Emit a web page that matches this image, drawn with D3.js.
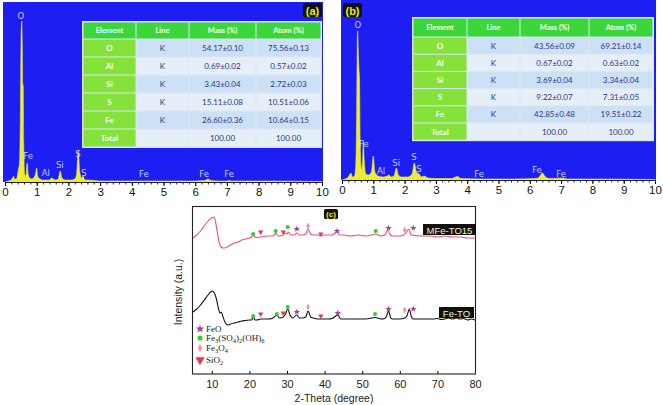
<!DOCTYPE html>
<html><head><meta charset="utf-8">
<script src="https://cdn.jsdelivr.net/npm/d3@7"></script>
<style>body{margin:0;background:#fff;} svg{display:block;}</style>
</head><body><svg id="c" width="663" height="405"></svg>
<script>
// ---------------- DATA ----------------
const keVTicks = d3.range(0, 11);
const keVMinor = d3.range(0, 10.01, 0.2);

// EDS spectrum (a): [keV, counts]
const spectrumA = [[0,0],[0.1,1],[0.18,2],[0.24,4],[0.27,6],[0.3,3],[0.36,3],[0.42,12],[0.46,20],[0.49,80],[0.51,150],[0.53,161],[0.545,140],[0.56,98],[0.575,96],[0.59,40],[0.62,8],[0.66,6],[0.7,19],[0.73,8],[0.78,4],[0.85,3],[0.92,5],[0.97,9],[1.0,14],[1.03,6],[1.1,3],[1.2,2],[1.3,2],[1.4,2],[1.47,4],[1.52,3],[1.6,2],[1.68,3],[1.74,11],[1.8,4],[1.9,2],[2.0,2],[2.1,2],[2.2,3],[2.26,8],[2.31,31],[2.36,10],[2.42,4],[2.46,6],[2.52,2],[2.6,2],[2.8,1.5],[3.0,1],[3.5,1],[4,1],[5,1],[6,1],[6.3,1.5],[6.4,3],[6.5,1.5],[6.7,1],[7.0,1],[7.06,1.5],[7.15,1],[8,1],[9,0.8],[10,0.5]];
// EDS spectrum (b): [keV, counts]
const spectrumB = [[0,0],[0.1,1],[0.2,3],[0.26,6],[0.29,7],[0.33,3],[0.4,4],[0.44,15],[0.47,70],[0.49,140],[0.5,149],[0.52,130],[0.54,112],[0.56,100],[0.58,40],[0.62,10],[0.66,20],[0.68,39],[0.71,20],[0.76,6],[0.85,5],[0.94,8],[1.0,24],[1.05,8],[1.15,4],[1.3,3],[1.45,4],[1.5,5],[1.56,3],[1.66,4],[1.74,12],[1.8,5],[1.9,3],[2.1,3],[2.24,6],[2.31,17],[2.38,8],[2.46,6],[2.55,3],[2.62,4],[2.75,2],[3.0,1.5],[3.5,1.5],[3.69,3.5],[3.8,1.5],[4.5,1],[5.5,1],[6.2,1.5],[6.3,3],[6.4,7],[6.5,3],[6.65,1.5],[7.06,2],[7.2,1],[8,1],[10,0.5]];

// Peak labels: [text, keV, counts]
const peakLabelsA = [["O",0.50,166],["Fe",0.73,26],["Al",1.29,9],["Si",1.73,17],["S",2.30,28],["S",2.49,9],["Fe",4.38,8],["Fe",6.28,8],["Fe",7.07,8]];
const peakLabelsB = [["O",0.51,155],["Fe",0.70,36],["Al",1.25,9],["Si",1.73,17],["S",2.30,23],["S",2.46,11],["Fe",4.38,6],["Fe",6.23,10],["Fe",7.0,6]];

// Tables
const tableHeaders = ["Element","Line","Mass (%)","Atom (%)"];
const elements = ["O","Al","Si","S","Fe","Total"];
const lines = ["K","K","K","K","K",""];
const massA = ["54.17±0.10","0.69±0.02","3.43±0.04","15.11±0.08","26.60±0.36","100.00"];
const atomA = ["75.56±0.13","0.57±0.02","2.72±0.03","10.51±0.06","10.64±0.15","100.00"];
const massB = ["43.56±0.09","0.67±0.02","3.69±0.04","9.22±0.07","42.85±0.48","100.00"];
const atomB = ["69.21±0.14","0.63±0.02","3.34±0.04","7.31±0.05","19.51±0.22","100.00"];

// XRD
const thetaTicks = [10,20,30,40,50,60,70,80];
const xrdMFe = [[5,136],[6,139],[7,143],[8,148],[9,153],[10,156.5],[10.5,157],[11,152],[11.5,141],[12,131],[12.5,127],[13,126],[13.5,126],[14,127],[15,129],[16,131],[17,132],[18,134],[19,135],[20,136],[20.6,137],[21,139],[21.5,137],[22,136.5],[23,137],[24,137.5],[25,138],[26,138],[26.6,139],[27,141],[27.6,138],[28,138],[29,139],[29.5,141],[30,140],[30.3,142],[31,139],[32,139],[32.6,141],[33.3,139],[34,139],[35,140],[35.6,145],[36.3,140],[37,139],[38,139],[39,138.5],[40,139],[41,139],[42,139],[43.3,142],[44,139],[45,139],[47,138],[49,139],[51,138],[53.5,140],[55,138],[56,139],[56.8,144],[57.5,139],[58,138],[60,138],[61,139],[61.6,141],[62.4,145],[63,139],[64,138.5],[66,138],[68,138],[70,137],[72,138],[74,137],[76,137],[78,136],[80,136]];
const xrdFe = [[5,62],[6,65],[7,69],[8,74],[9,79],[9.7,82],[10.2,83],[10.8,80],[11.3,74],[11.8,65],[12.2,61],[12.5,62],[12.9,58],[13.5,52],[14.3,49],[15,50],[16,51],[17,52],[18,53],[19,53.5],[20,54],[20.6,54],[21,57],[21.5,54],[22,54],[23,55],[24,55],[25,55],[26,55.5],[27.3,59],[28,56],[29,57],[29.6,60],[30.2,65],[30.8,59],[31.5,56],[32.6,59],[33.3,56],[34,56],[35,57],[35.6,63],[36.3,57],[37,56],[38,55],[39,55],[40,55],[41,55],[42,55.5],[43.5,59],[44.3,55],[45,55],[47,55],[49,55],[51,55],[53.5,56.5],[55,55],[56,55.5],[56.5,58],[57,63],[57.6,56],[58,55],[60,55],[61.3,56],[62,59],[62.5,65],[63.1,57],[63.5,55],[65,55],[67,55],[69,55],[70,55.5],[71,54.5],[72,55],[73,56],[74,55],[75,56],[76,55],[77,55.5],[78,54],[79,55],[80,54]];

// Phase markers: [2theta, intensity, phase index]
const phaseNames = ["FeO","Fe3(SO4)2(OH)6","Fe3O4","SiO2"];
const markersMFe = [[21,140,1],[23,142,3],[27,143,1],[29,142,3],[30.2,147,1],[32.6,145,0],[35.6,148,2],[39,140,3],[43.3,143,0],[53.6,143,1],[57,146,0],[61.3,144,2],[63.6,146,0]];
const markersFe = [[21,58,1],[23,60,3],[27.3,60,1],[29,61,3],[30.2,67,1],[32.6,62,0],[35.6,67,2],[39,58,3],[43.5,61,0],[53.4,60,1],[57,65,0],[61.3,64,2],[63.6,65,0]];

// ---------------- DRAW ----------------
const svg = d3.select("#c");
const BLUE = "#1c1ef2", YEL = "#ecec30", LBL = "#c9ccff";

function edsPanel(bx0, bx1, by0, base, x0, x1, spec, labels, tag, tagX, tagY) {
  const x = d3.scaleLinear([0,10],[x0,x1]);
  const y = d3.scaleLinear([0,180],[base, base-180]);
  const g = svg.append("g");
  g.append("rect").attr("x",bx0).attr("y",by0).attr("width",bx1-bx0).attr("height",base-by0).attr("fill",BLUE);
  const area = d3.area().x(d=>x(d[0])).y0(base).y1(d=>y(d[1])).curve(d3.curveMonotoneX);
  g.append("path").datum(spec).attr("d",area).attr("fill",YEL).attr("stroke",YEL).attr("stroke-width",0.6);
  g.selectAll("text.pl").data(labels).join("text").attr("class","pl")
    .attr("x",d=>x(d[1])).attr("y",d=>y(d[2])).attr("text-anchor","middle").attr("dominant-baseline","central")
    .attr("font-family","DejaVu Sans, sans-serif").attr("font-size",8.5).attr("fill",LBL).text(d=>d[0]);
  g.append("g").attr("transform",`translate(0,${base})`)
    .call(d3.axisBottom(x).tickValues(keVMinor).tickSize(2.5).tickFormat(""))
    .call(a=>a.select(".domain").remove())
    .call(a=>a.selectAll("line").attr("stroke","#222"));
  const ax = g.append("g").attr("transform",`translate(0,${base})`)
    .call(d3.axisBottom(x).tickValues(keVTicks).tickSize(4).tickPadding(2).tickSizeOuter(0).tickFormat(d3.format("d")));
  ax.select(".domain").attr("stroke","#222").attr("stroke-width",1.2);
  ax.selectAll("text").attr("font-family","Liberation Sans, Arial, sans-serif").attr("font-size",11.5).attr("fill","#111");
  g.append("rect").attr("x",tagX).attr("y",tagY).attr("width",19).attr("height",14).attr("rx",2).attr("fill","#111");
  g.append("text").attr("x",tagX+9.5).attr("y",tagY+7.5).attr("text-anchor","middle").attr("dominant-baseline","central")
    .attr("font-family","Liberation Sans, Arial, sans-serif").attr("font-weight","bold").attr("font-size",11).attr("fill","#f2f200").text(tag);
}

function table(tx, ty, colW, headH, rowH, mass, atom) {
  const g = svg.append("g");
  const cx = [tx]; colW.forEach(w=>cx.push(cx[cx.length-1]+w));
  const totalW = cx[4]-tx, totalH = headH + rowH*6;
  g.append("rect").attr("x",tx-1).attr("y",ty-1).attr("width",totalW+2).attr("height",totalH+2).attr("fill","#dde6f6");
  const font = "Lato, Open Sans, sans-serif";
  tableHeaders.forEach((h,i)=>{
    g.append("rect").attr("x",cx[i]+0.5).attr("y",ty+0.5).attr("width",colW[i]-1).attr("height",headH-1).attr("fill","#3ad63a");
    g.append("text").attr("x",(cx[i]+cx[i+1])/2).attr("y",ty+headH/2).attr("text-anchor","middle").attr("dominant-baseline","central")
      .attr("font-family",font).attr("font-weight","bold").attr("font-size",7.5).attr("fill","#fff").text(h);
  });
  elements.forEach((e,r)=>{
    const yy = ty+headH+r*rowH;
    const vals = [e, lines[r], mass[r], atom[r]];
    vals.forEach((v,i)=>{
      const fill = i===0 ? "#84e23a" : (r%2===0 ? "#cde1f6" : "#e6eef8");
      g.append("rect").attr("x",cx[i]+0.5).attr("y",yy+0.5).attr("width",colW[i]-1).attr("height",rowH-1).attr("fill",fill);
      g.append("text").attr("x",(cx[i]+cx[i+1])/2).attr("y",yy+rowH/2).attr("text-anchor","middle").attr("dominant-baseline","central")
        .attr("font-family",font).attr("font-weight", i===0?"bold":"normal").attr("font-size",8)
        .attr("fill", i===0 ? "#fff" : "#27378e").text(v);
    });
  });
}

edsPanel(3, 323, 2, 182, 5, 322, spectrumA, peakLabelsA, "(a)", 303, 3);
edsPanel(341, 656, 0, 180, 342, 655, spectrumB, peakLabelsB, "(b)", 343, 3);
table(83, 22, [53,53,67,65], 17, 18, massA, atomA);
table(413, 18, [54,53,69,64], 19, 17.2, massB, atomB);

// ---------------- XRD ----------------
const xC = d3.scaleLinear([5,80],[193,475]);
const yC = d3.scaleLinear([0,168],[374,206]);
const gC = svg.append("g");
const xa = gC.append("g").attr("transform","translate(0,374)")
  .call(d3.axisBottom(xC).tickValues(thetaTicks).tickSize(-3).tickPadding(6).tickSizeOuter(0));
xa.select(".domain").remove();
xa.selectAll("text").attr("font-family","Liberation Sans, Arial, sans-serif").attr("font-size",11).attr("fill","#222");
gC.append("rect").attr("x",192.5).attr("y",206.5).attr("width",283).attr("height",167.5)
  .attr("fill","none").attr("stroke","#222").attr("stroke-width",1.1);
const line = d3.line().x(d=>xC(d[0])).y(d=>yC(d[1])).curve(d3.curveMonotoneX);
gC.append("path").datum(xrdMFe).attr("d",line).attr("fill","none").attr("stroke","#f0506e").attr("stroke-width",1.1);
gC.append("path").datum(xrdFe).attr("d",line).attr("fill","none").attr("stroke","#111").attr("stroke-width",1.1);

const phaseSym = [d3.symbolStar, d3.symbolCircle, d3.symbolDiamond, d3.symbolTriangle];
const phaseCol = ["#a03c9c","#34cc34","#f78fa7","#e8315b"];
const phaseSize = [14,13,12,12];
function marker(g, px, py, p, scale) {
  g.append("path").attr("d", d3.symbol(phaseSym[p], phaseSize[p]*scale)())
    .attr("transform", `translate(${px},${py})` + (p===3 ? " rotate(180)" : ""))
    .attr("fill", phaseCol[p]);
}
[markersMFe, markersFe].forEach(ms => ms.forEach(m => marker(gC, xC(m[0]), yC(m[1]), m[2], 1)));

function tagBox(x0, y0, w, h, txt, fs) {
  gC.append("rect").attr("x",x0).attr("y",y0).attr("width",w).attr("height",h).attr("fill","#111");
  gC.append("text").attr("x",x0+w/2).attr("y",y0+h/2+0.5).attr("text-anchor","middle").attr("dominant-baseline","central")
    .attr("font-family","Liberation Sans, Arial, sans-serif").attr("font-size",fs).attr("fill","#f4f4c0").text(txt);
}
tagBox(423, 224, 53, 11, "MFe-TO15", 9.5);
tagBox(439, 307, 35, 11, "Fe-TO", 9.5);
gC.append("rect").attr("x",324).attr("y",209).attr("width",14).attr("height",10).attr("rx",1.5).attr("fill","#111");
gC.append("text").attr("x",331).attr("y",214.5).attr("text-anchor","middle").attr("dominant-baseline","central")
  .attr("font-family","Liberation Sans, Arial, sans-serif").attr("font-weight","bold").attr("font-size",8).attr("fill","#f2f200").text("(c)");

// legend
const legY = [329,338,348,360];
phaseNames.forEach((n,i)=>{
  marker(gC, 200, legY[i], i, i===3 ? 3 : 1.6);
  const t = gC.append("text").attr("x",206).attr("y",legY[i]+3)
    .attr("font-family","Liberation Serif, Times New Roman, serif").attr("font-size",9).attr("fill","#222");
  const parts = n.match(/[0-9]+|[^0-9]+/g);
  let shifted = false;
  parts.forEach(p=>{
    const isSub = /^[0-9]+$/.test(p);
    const ts = t.append("tspan").text(p);
    if (isSub) { ts.attr("font-size",6.5).attr("dy", 2); shifted = true; }
    else if (shifted) { ts.attr("dy", -2); shifted = false; }
  });
});

gC.append("text").attr("x",334).attr("y",398).attr("text-anchor","middle").attr("dominant-baseline","central")
  .attr("font-family","Liberation Sans, Arial, sans-serif").attr("font-size",10.5).attr("fill","#222").text("2-Theta (degree)");
gC.append("text").attr("transform","translate(178,292) rotate(-90)").attr("text-anchor","middle").attr("dominant-baseline","central")
  .attr("font-family","Liberation Sans, Arial, sans-serif").attr("font-size",10.5).attr("fill","#222").text("Intensity (a.u.)");
</script></body></html>
